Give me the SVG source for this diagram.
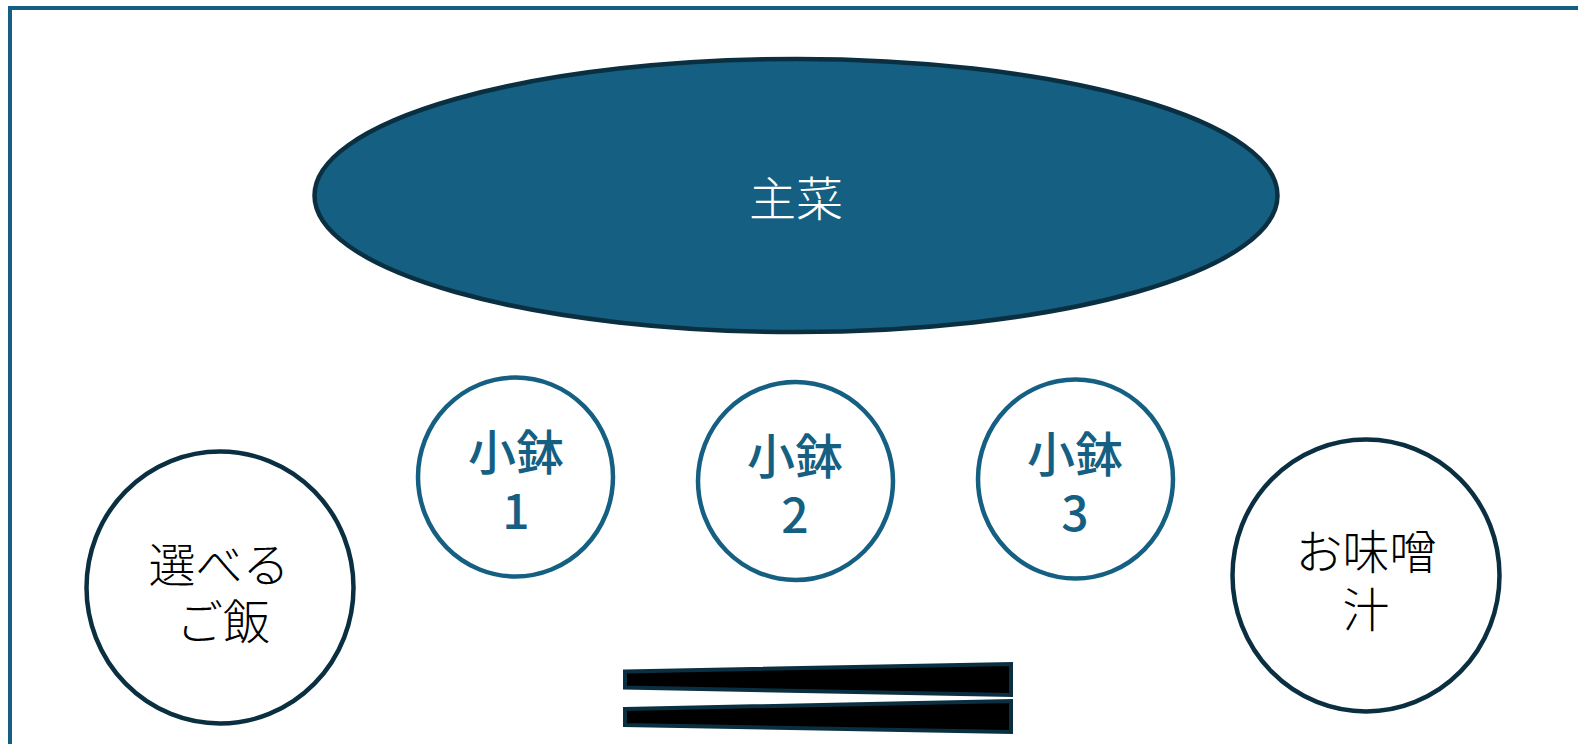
<svg xmlns="http://www.w3.org/2000/svg" width="1578" height="744" viewBox="0 0 1578 744">
<style>
.t{font-family:"Noto Sans CJK JP","Noto Sans CJK SC",sans-serif;font-size:47px;text-anchor:middle}
.k{fill:#000;font-weight:300}
.b{fill:#156082;font-weight:500;font-size:48px}
.w{fill:#fff;font-weight:300}
.d{fill:#fff;stroke:#0A2F41;stroke-width:4.5}
.s{fill:#fff;stroke:#156082;stroke-width:4.5}
.c{fill:#000;stroke:#0A2F41;stroke-width:4}
</style>
<rect width="1578" height="744" fill="#fff"/>
<g id="frame"><path d="M10 744V8H1578" fill="none" stroke="#156082" stroke-width="4"/></g>
<g id="connectors"/>
<g id="main"><ellipse cx="796" cy="195.5" rx="481.5" ry="136.5" fill="#156082" stroke="#0A2F41" stroke-width="4.5"/><text class="t w" x="796" y="216">主菜</text></g>
<g id="kobachi1"><ellipse class="s" cx="515.5" cy="477" rx="97.5" ry="99.5"/><text class="t b" x="516" y="470">小鉢<tspan x="516" dy="59">1</tspan></text></g>
<g id="kobachi2"><ellipse class="s" cx="795.5" cy="481" rx="97.5" ry="99"/><text class="t b" x="795" y="474">小鉢<tspan x="795" dy="59">2</tspan></text></g>
<g id="kobachi3"><ellipse class="s" cx="1075.5" cy="479" rx="97.5" ry="99.5"/><text class="t b" x="1075" y="472">小鉢<tspan x="1075" dy="59">3</tspan></text></g>
<g id="rice"><ellipse class="d" cx="220" cy="587.5" rx="133.5" ry="136"/><text class="t k" x="219" y="582">選べる<tspan x="223" dy="57">ご飯</tspan></text></g>
<g id="soup"><ellipse class="d" cx="1366" cy="575.5" rx="133.5" ry="136"/><text class="t k" x="1366" y="569">お味噌<tspan x="1366" dy="58">汁</tspan></text></g>
<g id="chopstick1"><path class="c" d="M625 671.5L1011 664V695L625 687.5Z"/></g>
<g id="chopstick2"><path class="c" d="M625 709L1011 701V732L625 725Z"/></g>
</svg>
